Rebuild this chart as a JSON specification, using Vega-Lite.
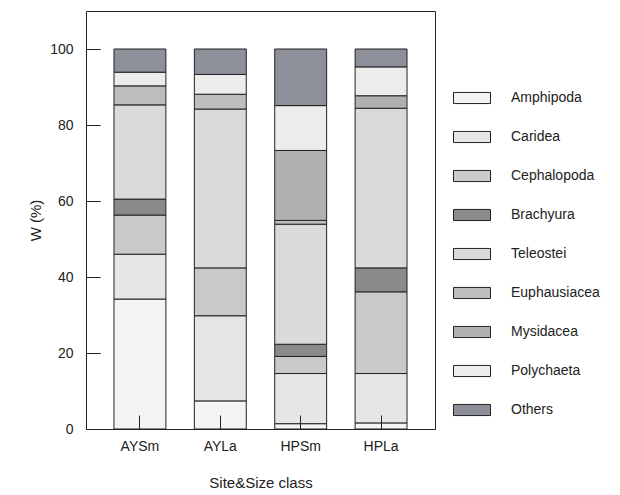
{
  "$schema": "https://vega.github.io/schema/vega-lite/v6.json",
  "width": 349,
  "height": 418,
  "autosize": {"type": "none"},
  "padding": {"left": 86, "top": 11, "right": 185, "bottom": 66},
  "background": "white",
  "config": {
    "font": "Liberation Sans",
    "view": {"stroke": "#222", "strokeWidth": 1},
    "axis": {"labelColor": "#222", "titleColor": "#222", "labelFont": "Liberation Sans", "titleFont": "Liberation Sans", "titleFontWeight": "normal", "ticks": true}
  },
  "data": {
    "values": [
      {"site": "AYSm", "prey": "Amphipoda", "k": 1, "w": 34.2},
      {"site": "AYSm", "prey": "Caridea", "k": 2, "w": 11.8},
      {"site": "AYSm", "prey": "Cephalopoda", "k": 3, "w": 10.3},
      {"site": "AYSm", "prey": "Brachyura", "k": 4, "w": 4.2},
      {"site": "AYSm", "prey": "Teleostei", "k": 5, "w": 24.8},
      {"site": "AYSm", "prey": "Euphausiacea", "k": 6, "w": 5.0},
      {"site": "AYSm", "prey": "Polychaeta", "k": 8, "w": 3.6},
      {"site": "AYSm", "prey": "Others", "k": 9, "w": 6.1},
      {"site": "AYLa", "prey": "Amphipoda", "k": 1, "w": 7.4},
      {"site": "AYLa", "prey": "Caridea", "k": 2, "w": 22.4},
      {"site": "AYLa", "prey": "Cephalopoda", "k": 3, "w": 12.6},
      {"site": "AYLa", "prey": "Teleostei", "k": 5, "w": 41.8},
      {"site": "AYLa", "prey": "Euphausiacea", "k": 6, "w": 3.9},
      {"site": "AYLa", "prey": "Polychaeta", "k": 8, "w": 5.2},
      {"site": "AYLa", "prey": "Others", "k": 9, "w": 6.7},
      {"site": "HPSm", "prey": "Amphipoda", "k": 1, "w": 1.4},
      {"site": "HPSm", "prey": "Caridea", "k": 2, "w": 13.2},
      {"site": "HPSm", "prey": "Cephalopoda", "k": 3, "w": 4.5},
      {"site": "HPSm", "prey": "Brachyura", "k": 4, "w": 3.2},
      {"site": "HPSm", "prey": "Teleostei", "k": 5, "w": 31.6},
      {"site": "HPSm", "prey": "Euphausiacea", "k": 6, "w": 1.0},
      {"site": "HPSm", "prey": "Mysidacea", "k": 7, "w": 18.4},
      {"site": "HPSm", "prey": "Polychaeta", "k": 8, "w": 11.8},
      {"site": "HPSm", "prey": "Others", "k": 9, "w": 14.9},
      {"site": "HPLa", "prey": "Amphipoda", "k": 1, "w": 1.6},
      {"site": "HPLa", "prey": "Caridea", "k": 2, "w": 13.0},
      {"site": "HPLa", "prey": "Cephalopoda", "k": 3, "w": 21.5},
      {"site": "HPLa", "prey": "Brachyura", "k": 4, "w": 6.3},
      {"site": "HPLa", "prey": "Teleostei", "k": 5, "w": 42.0},
      {"site": "HPLa", "prey": "Mysidacea", "k": 7, "w": 3.3},
      {"site": "HPLa", "prey": "Polychaeta", "k": 8, "w": 7.6},
      {"site": "HPLa", "prey": "Others", "k": 9, "w": 4.7}
    ]
  },
  "mark": {"type": "bar", "stroke": "#222", "strokeWidth": 1},
  "encoding": {
    "x": {
      "field": "site", "type": "nominal",
      "sort": ["AYSm", "AYLa", "HPSm", "HPLa"],
      "scale": {"paddingInner": 0.354, "paddingOuter": 0.348},
      "axis": {"title": "Site&Size class", "labelAngle": 0, "labelFontSize": 14, "titleFontSize": 15, "grid": false, "domain": false, "ticks": true, "tickColor": "#222", "tickOpacity": 1, "tickWidth": 1, "tickBand": "center", "zindex": 1, "offset": -14, "tickSize": 14, "labelPadding": 10, "titlePadding": 22}
    },
    "y": {
      "field": "w", "type": "quantitative", "stack": "zero",
      "scale": {"domain": [0, 110], "nice": false},
      "axis": {"title": "W (%)", "values": [0, 20, 40, 60, 80, 100], "labelFontSize": 14, "titleFontSize": 15, "domain": false, "ticks": true, "tickColor": "#222", "tickOpacity": 1, "tickWidth": 1, "zindex": 1, "offset": -14, "tickSize": 14, "labelPadding": 13, "titlePadding": 6, "grid": true, "gridColor": "#222", "gridOpacity": 1, "gridWidth": 1, "gridDash": [14, 2000]}
    },
    "order": {"field": "k", "type": "quantitative", "sort": "ascending"},
    "fill": {
      "field": "prey", "type": "nominal",
      "scale": {
        "domain": ["Amphipoda", "Caridea", "Cephalopoda", "Brachyura", "Teleostei", "Euphausiacea", "Mysidacea", "Polychaeta", "Others"],
        "range": ["#f4f4f4", "#e6e6e6", "#c9c9c9", "#8a8a8a", "#dadada", "#bdbdbd", "#b0b0b0", "#ececec", "#8d9098"]
      },
      "legend": {
        "title": null,
        "orient": "none",
        "legendX": 367,
        "legendY": 68,
        "padding": 0,
        "symbolType": "M-1,-0.3H1V0.3H-1Z",
        "symbolSize": 1369,
        "symbolStrokeColor": "#222",
        "symbolStrokeWidth": 1,
        "rowPadding": 12,
        "labelOffset": 20,
        "labelFontSize": 14,
        "labelColor": "#222",
        "labelFont": "Liberation Sans"
      }
    }
  }
}
